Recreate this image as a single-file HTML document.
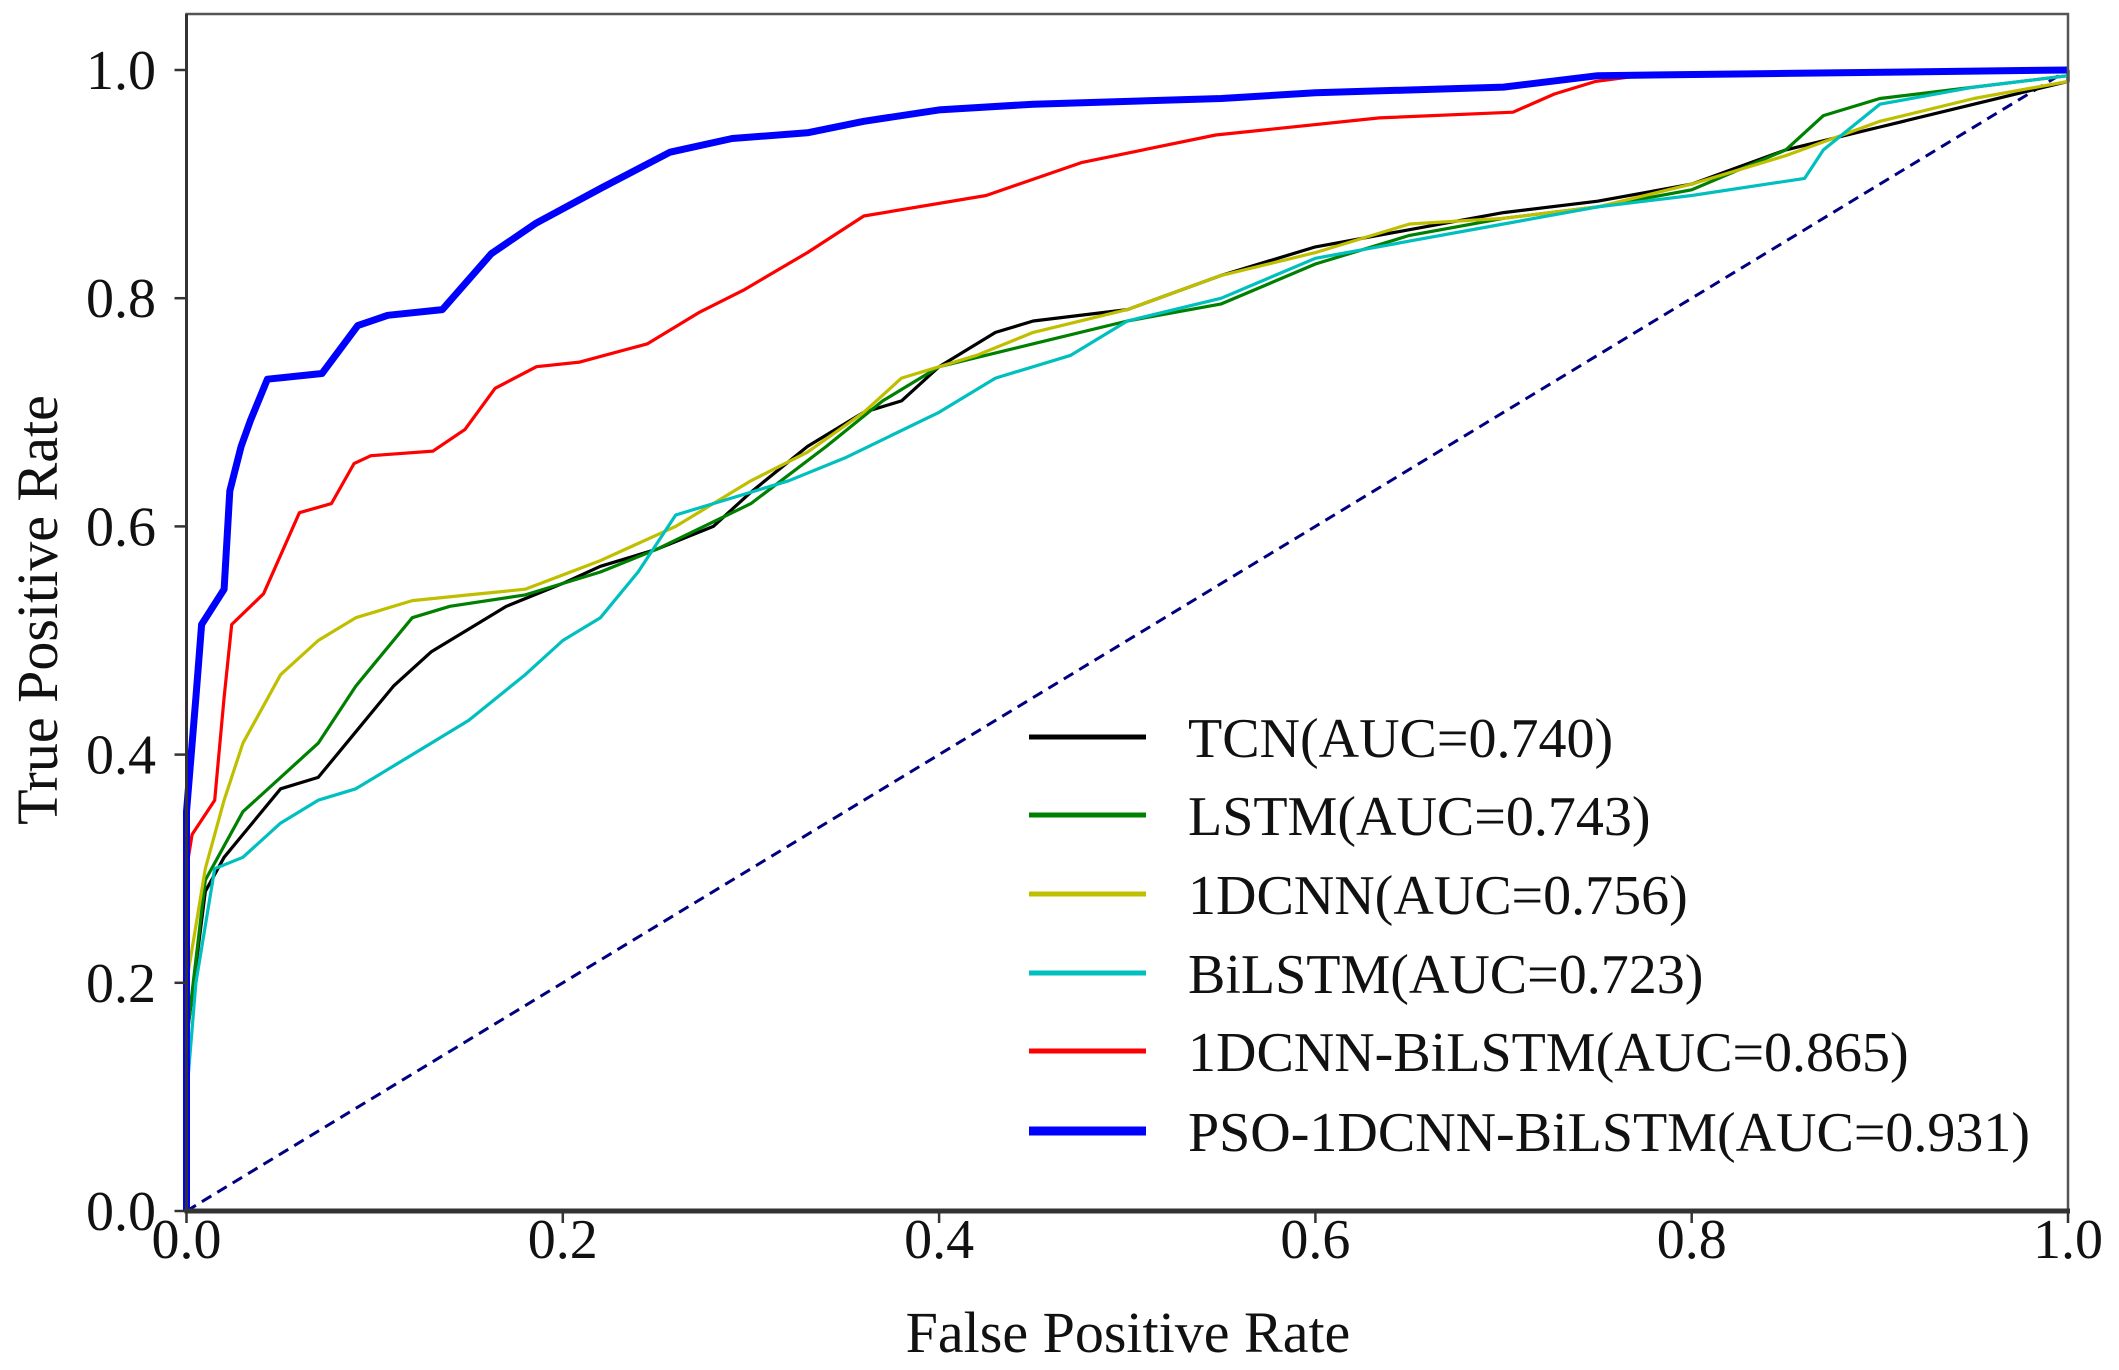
<!DOCTYPE html>
<html><head><meta charset="utf-8"><style>
html,body{margin:0;padding:0;background:#fff;}
svg{display:block;font-family:"Liberation Serif","DejaVu Serif",serif;}
</style></head><body>
<svg id="chart" width="2119" height="1370" viewBox="0 0 2119 1370" xmlns="http://www.w3.org/2000/svg">
<rect x="0" y="0" width="2119" height="1370" fill="#fff"/>
<g id="plot"></g>
<g id="axes"></g>
<g id="legend"></g>
</svg>
<script>
const xTicks = [0, 0.2, 0.4, 0.6, 0.8, 1.0];
const yTicks = [0, 0.2, 0.4, 0.6, 0.8, 1.0];
const tickLabels = ["0.0","0.2","0.4","0.6","0.8","1.0"];
const seriesNames = ["TCN(AUC=0.740)","LSTM(AUC=0.743)","1DCNN(AUC=0.756)","BiLSTM(AUC=0.723)","1DCNN-BiLSTM(AUC=0.865)","PSO-1DCNN-BiLSTM(AUC=0.931)"];
const seriesColors = ["#000000","#008000","#bfbf00","#00bfbf","#ff0000","#0000ff"];
const tcnFpr = [0,0,0.01,0.02,0.03,0.05,0.07,0.09,0.11,0.13,0.15,0.17,0.2,0.22,0.25,0.28,0.3,0.33,0.36,0.38,0.4,0.43,0.45,0.5,0.55,0.6,0.65,0.7,0.75,0.8,0.85,0.9,0.95,1,1];
const tcnTpr = [0,0.15,0.28,0.31,0.33,0.37,0.38,0.42,0.46,0.49,0.51,0.53,0.55,0.565,0.58,0.6,0.63,0.67,0.7,0.71,0.74,0.77,0.78,0.79,0.82,0.845,0.86,0.875,0.885,0.9,0.93,0.95,0.97,0.99,1];
const lstmFpr = [0,0,0.01,0.03,0.05,0.07,0.09,0.1,0.12,0.14,0.18,0.22,0.25,0.3,0.34,0.37,0.4,0.45,0.5,0.55,0.6,0.65,0.7,0.75,0.8,0.85,0.87,0.9,0.95,1];
const lstmTpr = [0,0.15,0.29,0.35,0.38,0.41,0.46,0.48,0.52,0.53,0.54,0.56,0.58,0.62,0.67,0.71,0.74,0.76,0.78,0.795,0.83,0.855,0.87,0.88,0.895,0.93,0.96,0.975,0.985,0.995];
const cnnFpr = [0,0,0.01,0.02,0.03,0.05,0.07,0.09,0.12,0.15,0.18,0.22,0.26,0.3,0.33,0.36,0.38,0.42,0.45,0.5,0.55,0.6,0.65,0.7,0.75,0.8,0.85,0.9,0.95,1];
const cnnTpr = [0,0.2,0.3,0.36,0.41,0.47,0.5,0.52,0.535,0.54,0.545,0.57,0.6,0.64,0.665,0.7,0.73,0.75,0.77,0.79,0.82,0.84,0.865,0.87,0.88,0.9,0.925,0.955,0.975,0.99];
const bilstmFpr = [0,0,0.005,0.015,0.03,0.05,0.07,0.09,0.11,0.13,0.15,0.18,0.2,0.22,0.24,0.26,0.28,0.32,0.35,0.4,0.43,0.47,0.5,0.55,0.6,0.65,0.7,0.75,0.8,0.84,0.86,0.87,0.9,0.95,1];
const bilstmTpr = [0,0.1,0.2,0.3,0.31,0.34,0.36,0.37,0.39,0.41,0.43,0.47,0.5,0.52,0.56,0.61,0.62,0.64,0.66,0.7,0.73,0.75,0.78,0.8,0.835,0.85,0.865,0.88,0.89,0.9,0.905,0.93,0.97,0.985,0.995];
const hybridFpr = [0,0,0.003,0.015,0.02,0.024,0.041,0.06,0.077,0.089,0.098,0.131,0.148,0.164,0.186,0.209,0.245,0.273,0.296,0.33,0.36,0.425,0.476,0.547,0.634,0.705,0.727,0.749,0.777,0.85,1];
const hybridTpr = [0,0.3,0.33,0.36,0.45,0.514,0.541,0.612,0.62,0.655,0.662,0.666,0.685,0.721,0.74,0.744,0.76,0.788,0.807,0.84,0.872,0.89,0.919,0.943,0.958,0.963,0.979,0.99,0.996,0.997,1];
const psoFpr = [0,0,0.005,0.008,0.02,0.023,0.029,0.034,0.043,0.072,0.091,0.107,0.136,0.162,0.186,0.221,0.257,0.29,0.33,0.36,0.4,0.45,0.55,0.6,0.7,0.75,0.85,1];
const psoTpr = [0,0.35,0.45,0.514,0.545,0.631,0.67,0.693,0.729,0.734,0.776,0.785,0.79,0.839,0.866,0.897,0.928,0.94,0.945,0.955,0.965,0.97,0.975,0.98,0.985,0.995,0.997,1];
const seriesFpr = [tcnFpr,lstmFpr,cnnFpr,bilstmFpr,hybridFpr,psoFpr];
const seriesTpr = [tcnTpr,lstmTpr,cnnTpr,bilstmTpr,hybridTpr,psoTpr];
const seriesKeys = ["tcn","lstm","1dcnn","bilstm","1dcnn-bilstm","pso-1dcnn-bilstm"];

const NS = "http://www.w3.org/2000/svg";
const X0 = 186.5, X1 = 2068, Y0 = 1211, Y1 = 70;
function sx(v){ return X0 + v*(X1-X0); }
function sy(v){ return Y0 - v*(Y0-Y1); }
function mk(tag, attrs, parent){
  const e = document.createElementNS(NS, tag);
  for (const k in attrs) e.setAttribute(k, attrs[k]);
  parent.appendChild(e); return e;
}
const plot = document.getElementById('plot');
const axes = document.getElementById('axes');
const legend = document.getElementById('legend');

// diagonal
const diag = mk('line',{x1:sx(0),y1:sy(0),x2:sx(1),y2:sy(1),stroke:'#000080','stroke-width':3,'stroke-dasharray':'11,7'},plot);



for (let s=0; s<seriesFpr.length; s++){
  const xs = seriesFpr[s], ys = seriesTpr[s];
  let d = '';
  for (let i=0;i<xs.length;i++) d += (i?'L':'M') + sx(xs[i]).toFixed(1) + ',' + sy(ys[i]).toFixed(1);
  const p = mk('path',{d:d,fill:'none',stroke:seriesColors[s],'stroke-width': s===5 ? 7 : 3.2,'stroke-linejoin':'round'},plot);
  
  
}

// spines
const frame = mk('rect',{x:X0,y:14,width:X1-X0,height:Y0-14,fill:'none',stroke:'#555','stroke-width':2.5},axes);


const bottom = mk('line',{x1:X0-2,y1:Y0,x2:X1+2,y2:Y0,stroke:'#333','stroke-width':5},axes);


const leftAx = mk('line',{x1:X0,y1:14,x2:X0,y2:Y0,stroke:'#333','stroke-width':3},axes);



for (let i=0;i<xTicks.length;i++){
  const x = sx(xTicks[i]);
  const t = mk('line',{x1:x,y1:Y0,x2:x,y2:Y0+12,stroke:'#333','stroke-width':2.5},axes);
  
  
  const l = mk('text',{x:x,y:1258,'text-anchor':'middle','font-size':56,fill:'#111'},axes);
  l.textContent = tickLabels[i];
  
  
}
for (let i=0;i<yTicks.length;i++){
  const y = sy(yTicks[i]);
  const t = mk('line',{x1:X0-12,y1:y,x2:X0,y2:y,stroke:'#333','stroke-width':2.5},axes);
  
  
  const l = mk('text',{x:156,y:y+19,'text-anchor':'end','font-size':56,fill:'#111'},axes);
  l.textContent = tickLabels[i];
  
  
}
const xt = mk('text',{x:1128,y:1352,'text-anchor':'middle','font-size':58,fill:'#111'},axes);
xt.textContent = 'False Positive Rate';


const yt = mk('text',{x:0,y:0,'text-anchor':'middle','font-size':58,fill:'#111',transform:'translate(57,610) rotate(-90)'},axes);
yt.textContent = 'True Positive Rate';



const rowY = [737, 815, 894, 973, 1051, 1131];
for (let s=0;s<seriesNames.length;s++){
  const g = mk('g',{},legend);
  
  
  mk('line',{x1:1029,y1:rowY[s],x2:1146,y2:rowY[s],stroke:seriesColors[s],'stroke-width': s===5 ? 9 : 5},g);
  const t = mk('text',{x:1188,y:rowY[s]+20,'font-size':56,fill:'#111'},g);
  t.textContent = seriesNames[s];
}
</script>
</body></html>
